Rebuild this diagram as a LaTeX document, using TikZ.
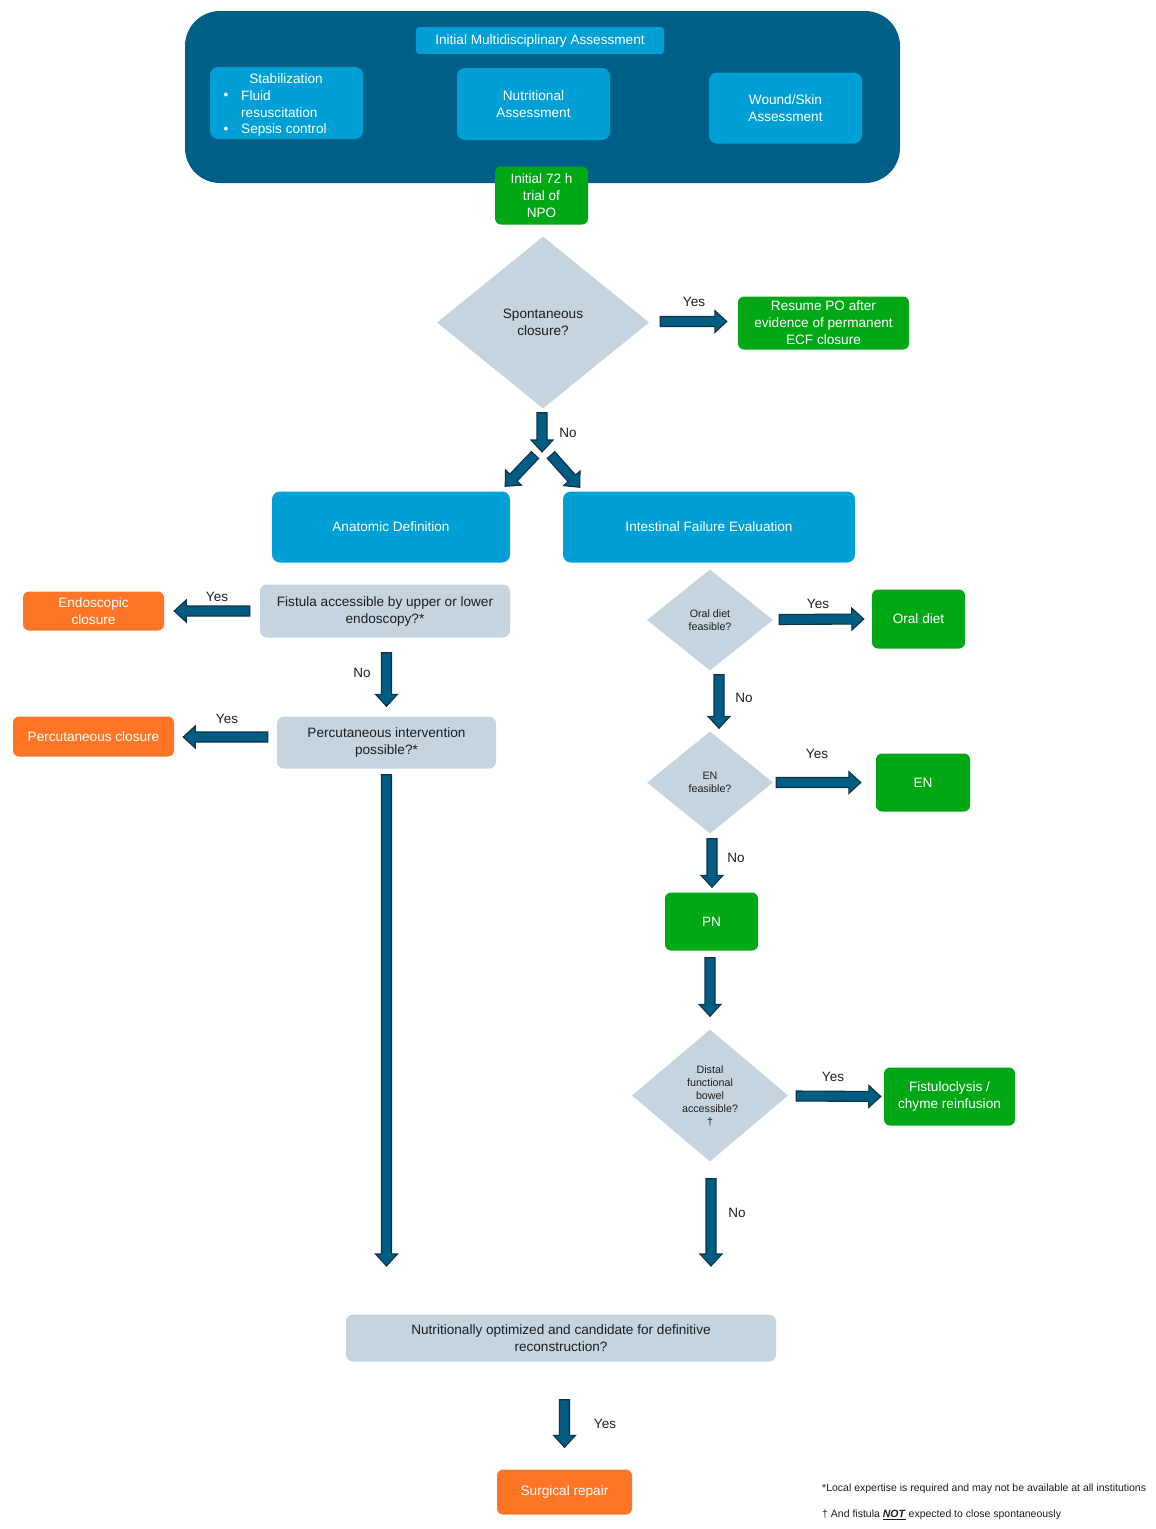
\documentclass[tikz,border=0pt]{standalone}
\usepackage{fontspec}
\setmainfont{Liberation Sans}
\usetikzlibrary{shapes.geometric,calc}
\definecolor{outerblue}{RGB}{0,95,134}
\definecolor{lightblue}{RGB}{0,160,214}
\definecolor{ggreen}{RGB}{0,168,22}
\definecolor{orng}{RGB}{255,117,38}
\definecolor{ggray}{RGB}{197,212,223}
\definecolor{arrfill}{RGB}{0,92,130}
\definecolor{arrline}{RGB}{12,52,72}
\definecolor{txt}{RGB}{30,30,30}
\newcommand\barrow[2]{%
  \path let \p1=(#1), \p2=(#2), \n1={atan2(\y2-\y1,\x2-\x1)}, \n2={veclen(\x2-\x1,\y2-\y1)} in
    \pgfextra{\xdef\bang{\n1}\xdef\blen{\n2}\xdef\bx{\x1}\xdef\by{\y1}};
  \draw[blockarrow, shift={(\bx,\by)}, rotate=\bang]
    (0,-5) -- (\blen-12,-5) -- (\blen-12,-11) -- (\blen,0) -- (\blen-12,11) -- (\blen-12,5) -- (0,5) -- cycle;
}
\tikzset{
  blockarrow/.style={fill=arrfill, draw=arrline, line width=1.1pt, line join=miter},
  base/.style={inner sep=0pt, align=center, font=\fontsize{13.6}{17}\selectfont},
  lbox/.style={base, fill=lightblue, rounded corners=8, text=white},
  gbox/.style={base, fill=ggreen, rounded corners=6, text=white},
  obox/.style={base, fill=orng, rounded corners=6, text=white},
  graybox/.style={base, fill=ggray, rounded corners=7, text=txt},
  dia/.style={base, diamond, fill=ggray, text=txt},
  smalltxt/.style={font=\fontsize{10.7}{13}\selectfont},
  lab/.style={inner sep=0pt, text=txt, font=\fontsize{13.5}{16}\selectfont},
  wt/.style={inner sep=0pt, text=white, font=\fontsize{13.6}{17}\selectfont},
  foot/.style={inner sep=0pt, anchor=west, text=txt, font=\fontsize{10.5}{12}\selectfont},
}
\begin{document}
\begin{tikzpicture}[x=1pt, y=-1pt]
\useasboundingbox[fill=white] (0,0) rectangle (1156,1529);
% top container
\node[fill=outerblue, rounded corners=35, minimum width=715, minimum height=172, inner sep=0] (outer) at (542.5,97) {};
\node[lbox, rounded corners=3, minimum width=248, minimum height=27] (ima) at (540,40.5) {Initial Multidisciplinary Assessment};
\node[lbox, minimum width=153, minimum height=72] (stab) at (286.5,103) {};
\node[wt] (stabT) at (286,79) {Stabilization};
\node[wt] (bul1) at (226,96) {•};
\node[wt, anchor=west] (fl1) at (241,96) {Fluid};
\node[wt, anchor=west] (fl2) at (241,113) {resuscitation};
\node[wt] (bul2) at (226,130) {•};
\node[wt, anchor=west] (sep) at (241,130) {Sepsis control};
\node[lbox, minimum width=153, minimum height=72] (nutr) at (533.5,104) {Nutritional\\Assessment};
\node[lbox, minimum width=153, minimum height=71] (wound) at (785.5,108) {Wound/Skin\\Assessment};
\node[gbox, minimum width=93, minimum height=58] (npo) at (541.5,195.5) {Initial 72 h\\trial of\\NPO};
% spontaneous closure
\node[dia, minimum width=212, minimum height=172] (spont) at (543,322.5) {Spontaneous\\closure?};
\node[gbox, minimum width=171, minimum height=53] (resume) at (823.5,323) {Resume PO after\\evidence of permanent\\ECF closure};
\barrow{$(spont.east)+(11,-1)$}{$(resume.west)+(-11,-1.5)$}
\node[lab] (y1) at (694,302) {Yes};
\coordinate (split) at (542,452);
\barrow{$(spont.south)+(-1,4)$}{split}
\node[lab] (n1) at (568,433) {No};
% second level
\node[lbox, minimum width=238, minimum height=71] (anat) at (391,527) {Anatomic Definition};
\node[lbox, minimum width=292, minimum height=71] (ife) at (709,527) {Intestinal Failure Evaluation};
\barrow{$(split)+(-7,3)$}{$(anat.north east)+(-5,-5)$}
\barrow{$(split)+(9,3)$}{$(ife.north west)+(17,-4)$}
% left branch
\node[graybox, minimum width=250, minimum height=53] (fist) at (385,611) {Fistula accessible by upper or lower\\endoscopy?*};
\node[obox, minimum width=141, minimum height=39] (endo) at (93.5,611) {Endoscopic\\closure};
\barrow{$(fist.west)+(-10,0)$}{$(endo.east)+(10,0)$}
\node[lab] (y2) at (217,597) {Yes};
\node[graybox, minimum width=219, minimum height=52] (perc) at (386.5,742.5) {Percutaneous intervention\\possible?*};
\barrow{$(fist.south -| perc.north)+(0,15)$}{$(perc.north)+(0,-10)$}
\node[lab] (n2) at (362,673) {No};
\node[obox, minimum width=161, minimum height=40] (pclos) at (93.5,736.5) {Percutaneous closure};
\barrow{$(pclos.east -| perc.west)+(-9,0.5)$}{$(pclos.east)+(9,0.5)$}
\node[lab] (y3) at (227,719) {Yes};
\coordinate (lend) at (386.5,1266);
\barrow{$(perc.south)+(0,6)$}{lend}
% right branch
\node[dia, smalltxt, minimum width=126, minimum height=101] (oral) at (710,620) {Oral diet\\feasible?};
\node[gbox, minimum width=93, minimum height=59] (oralbox) at (918.5,619) {Oral diet};
\barrow{$(oral.east)+(6,-0.5)$}{$(oralbox.west)+(-8,0)$}
\node[lab] (y4) at (818,604) {Yes};
\node[dia, smalltxt, minimum width=126, minimum height=102] (en) at (710,782.5) {EN\\feasible?};
\barrow{$(oral.south)+(9,4)$}{$(en.north)+(9,-3)$}
\node[lab] (n3) at (744,698) {No};
\node[gbox, minimum width=94, minimum height=58] (enbox) at (923,782.5) {EN};
\barrow{$(en.east)+(3,0)$}{$(enbox.west)+(-15,0)$}
\node[lab] (y5) at (817,754) {Yes};
\node[gbox, minimum width=93, minimum height=58] (pn) at (711.5,921.5) {PN};
\barrow{$(en.south)+(2,5)$}{$(pn.north)+(0.5,-5)$}
\node[lab] (n4) at (736,858) {No};
\node[dia, smalltxt, minimum width=156, minimum height=132] (distal) at (710,1095.5) {Distal\\functional\\bowel\\accessible?\\†};
\barrow{$(pn.south)+(-1.5,7)$}{$(distal.north)+(0,-13)$}
\node[gbox, minimum width=131, minimum height=58] (fbox) at (949.5,1096.5) {Fistuloclysis /\\chyme reinfusion};
\barrow{$(distal.east)+(8,0.5)$}{$(fbox.west)+(-3,0)$}
\node[lab] (y6) at (833,1077) {Yes};
\coordinate (rend) at (711,1266);
\barrow{$(distal.south)+(1,17)$}{rend}
\node[lab] (n5) at (737,1213) {No};
% bottom
\node[graybox, minimum width=430, minimum height=47] (nopt) at (561,1338) {Nutritionally optimized and candidate for definitive\\reconstruction?};
\node[obox, minimum width=135, minimum height=45] (surg) at (564.5,1492) {Surgical repair};
\barrow{$(nopt.south -| surg.north)+(0,38)$}{$(surg.north)+(0,-22)$}
\node[lab] (y7) at (605,1424) {Yes};
\node[foot] (f1) at (822,1489) {*Local expertise is required and may not be available at all institutions};
\node[foot] (f2) at (822,1515) {† And fistula \underline{\textbf{\textit{NOT}}} expected to close spontaneously};
\end{tikzpicture}
\end{document}
